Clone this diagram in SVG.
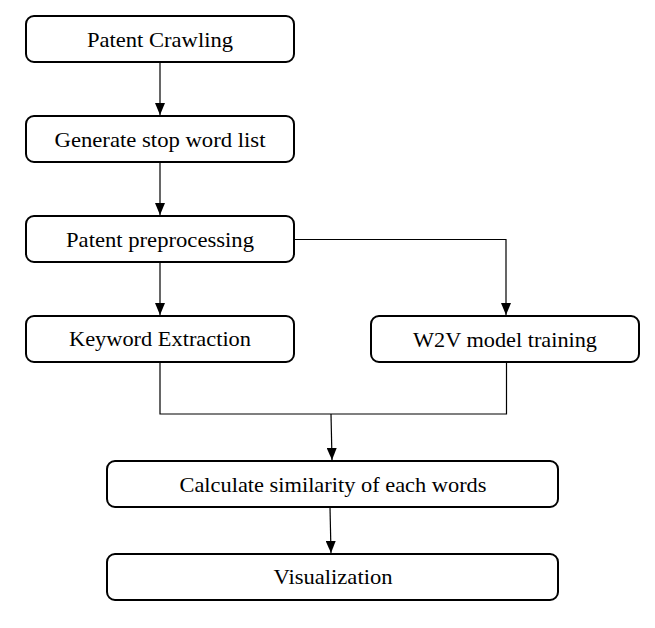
<svg xmlns="http://www.w3.org/2000/svg" width="655" height="628" viewBox="0 0 655 628">
<style>
.box{fill:#fff;stroke:#000;stroke-width:2}
.lbl{font-family:"Liberation Serif","Times New Roman",serif;font-size:21px;fill:#000;text-anchor:middle}
.con{fill:none;stroke:#000;stroke-width:1.2}
</style>
<defs>
<marker id="ah" viewBox="0 0 12 10" markerWidth="12" markerHeight="10" refX="12" refY="5" orient="auto" markerUnits="userSpaceOnUse">
<path d="M0,0 L12,5 L0,10 z" fill="#000"/>
</marker>
</defs>
<rect width="655" height="628" fill="#fff"/>
<g id="connectors">
<line class="con" x1="160" y1="62" x2="160" y2="115" marker-end="url(#ah)"/>
<line class="con" x1="160" y1="162" x2="160" y2="215" marker-end="url(#ah)"/>
<line class="con" x1="160" y1="262" x2="160" y2="315" marker-end="url(#ah)"/>
<polyline class="con" points="294,239.5 506,239.5 506,315" marker-end="url(#ah)"/>
<polyline class="con" points="160,362 160,414 506.5,414 506.5,362"/>
<line class="con" x1="331" y1="414" x2="332" y2="460" marker-end="url(#ah)"/>
<line class="con" x1="330" y1="507" x2="331" y2="553" marker-end="url(#ah)"/>
</g>
<g id="n1"><rect class="box" x="26" y="16" width="268" height="46" rx="8"/><text class="lbl" x="160" y="47" textLength="146" lengthAdjust="spacingAndGlyphs">Patent Crawling</text></g>
<g id="n2"><rect class="box" x="26" y="116" width="268" height="46" rx="8"/><text class="lbl" x="160" y="147" textLength="211" lengthAdjust="spacingAndGlyphs">Generate stop word list</text></g>
<g id="n3"><rect class="box" x="26" y="216" width="268" height="46" rx="8"/><text class="lbl" x="160" y="247" textLength="188" lengthAdjust="spacingAndGlyphs">Patent preprocessing</text></g>
<g id="n4"><rect class="box" x="26" y="316" width="268" height="46" rx="8"/><text class="lbl" x="160" y="346" textLength="182" lengthAdjust="spacingAndGlyphs">Keyword Extraction</text></g>
<g id="n5"><rect class="box" x="371" y="316" width="268" height="46" rx="8"/><text class="lbl" x="505" y="347" textLength="184" lengthAdjust="spacingAndGlyphs">W2V model training</text></g>
<g id="n6"><rect class="box" x="107" y="461" width="451" height="46" rx="8"/><text class="lbl" x="333" y="492" textLength="307" lengthAdjust="spacingAndGlyphs">Calculate similarity of each words</text></g>
<g id="n7"><rect class="box" x="107" y="554" width="451" height="46" rx="8"/><text class="lbl" x="333" y="584" textLength="119" lengthAdjust="spacingAndGlyphs">Visualization</text></g>
</svg>
